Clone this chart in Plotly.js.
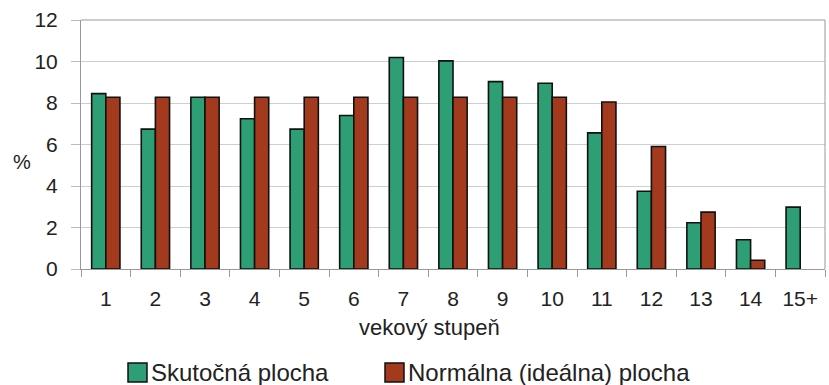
<!DOCTYPE html>
<html><head><meta charset="utf-8">
<script src="https://cdn.plot.ly/plotly-3.0.1.min.js"></script>
<style>html,body{margin:0;padding:0;background:#fff}</style>
</head><body>
<div id="chart" style="width:829px;height:385px"></div>
<script>
const categories = ["1","2","3","4","5","6","7","8","9","10","11","12","13","14","15+"];
const skutocna = [8.45,6.74,8.28,7.24,6.74,7.40,10.19,10.03,9.03,8.95,6.56,3.75,2.23,1.41,2.98];
const normalna = [8.28,8.28,8.28,8.28,8.28,8.28,8.28,8.28,8.28,8.28,8.05,5.90,2.74,0.42,null];
const yTicks = [0,2,4,6,8,10,12];
const seriesNames = ["Skutočná plocha","Normálna (ideálna) plocha"];
const seriesColors = ["#2e9e74","#a33a1e"];
const xTitle = "vekový stupeň";
const yTitle = "%";

const fam = "Liberation Sans, Arial, sans-serif";
const f = (s) => ({family:fam, size:s, color:"#222"});
const data = seriesNames.map((n,i) => ({
  type:"bar", name:n, x:categories, y:[skutocna,normalna][i],
  marker:{color:seriesColors[i], line:{color:"#111", width:1.6}}
}));

// plot area: x 81..825, y 20..269 (pixels)
const px = (x) => (x-81)/744;
const py = (y) => (269-y)/249;

const shapes = [
  {type:"line", xref:"paper", yref:"paper", x0:1, x1:1, y0:0, y1:1, line:{color:"#999", width:1}},
  {type:"line", xref:"paper", yref:"paper", x0:0, x1:1, y0:1, y1:1, line:{color:"#999", width:1}}
];
const annotations = [
  {text:yTitle, xref:"paper", yref:"paper", x:px(22), y:py(162), xanchor:"center", yanchor:"middle",
   showarrow:false, font:f(20)},
  {text:xTitle, xref:"paper", yref:"paper", x:px(429), y:py(327), xanchor:"center", yanchor:"middle",
   showarrow:false, font:f(22)}
];
// custom legend (squares + text)
const legendX = [128, 385];
seriesNames.forEach((n,i) => {
  shapes.push({type:"rect", xref:"paper", yref:"paper",
    x0:px(legendX[i]), x1:px(legendX[i]+19), y0:py(382), y1:py(363),
    fillcolor:seriesColors[i], line:{color:"#111", width:1.5}});
  annotations.push({text:n, xref:"paper", yref:"paper", x:px(legendX[i]+21), y:py(372),
    xanchor:"left", yanchor:"middle", showarrow:false, font:f(24)});
});

const layout = {
  width:829, height:385,
  margin:{l:81, r:4, t:20, b:116},
  paper_bgcolor:"#fff", plot_bgcolor:"#fff",
  font:f(18),
  barmode:"group", bargap:0.43, bargroupgap:0,
  showlegend:false,
  xaxis:{type:"category", showline:true, linecolor:"#999", linewidth:1, automargin:false,
         ticks:"outside", tickson:"boundaries", ticklen:7, tickcolor:"#999",
         tickfont:f(21), showgrid:false, ticklabelstandoff:11},
  yaxis:{range:[0,12], tickvals:yTicks, ticktext:yTicks.map(String), automargin:false,
         showline:true, linecolor:"#999", linewidth:1, ticks:"outside", ticklen:9, tickcolor:"#bbb",
         showgrid:true, gridcolor:"#cfcfcf", gridwidth:1, zeroline:false,
         tickfont:f(21), ticklabelstandoff:9},
  shapes:shapes,
  annotations:annotations
};
Plotly.newPlot("chart", data, layout, {displayModeBar:false, staticPlot:true});
</script>
</body></html>
